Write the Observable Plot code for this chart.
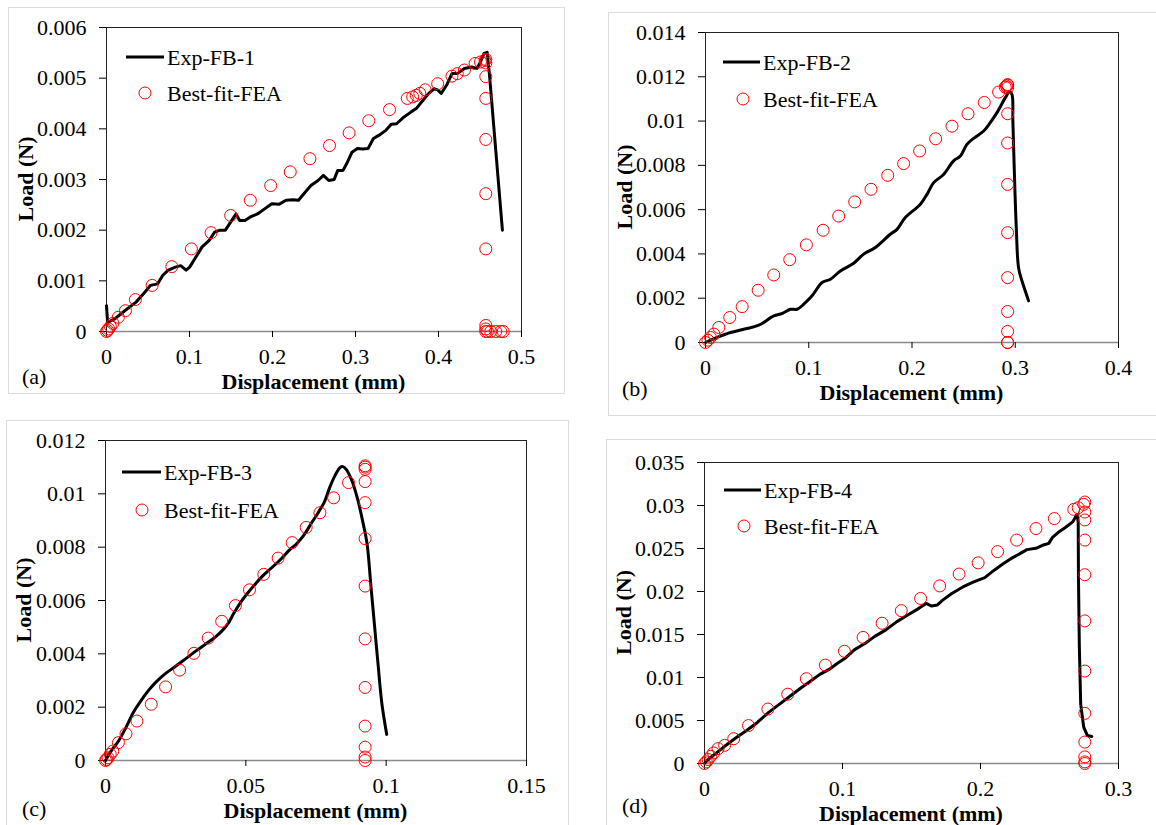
<!DOCTYPE html>
<html><head><meta charset="utf-8">
<script src="https://cdn.jsdelivr.net/npm/d3@7"></script>
<script src="https://cdn.jsdelivr.net/npm/@observablehq/plot@0.6"></script>
<style>
html,body{margin:0;padding:0;background:#fff;}
#root{position:relative;width:1156px;height:825px;overflow:hidden;background:#fff;}
.box{position:absolute;border:1px solid #dcdcdc;box-sizing:border-box;}
.panel{position:absolute;}
</style></head><body><div id="root"></div>
<script>
// ---------- Panel (a) ----------
const xTicksA = [0, 0.1, 0.2, 0.3, 0.4, 0.5];
const yTicksA = [0, 0.001, 0.002, 0.003, 0.004, 0.005, 0.006];
const expAx = [0,0.0013,0.0099,0.0228,0.0357,0.0464,0.0529,0.0615,0.0679,0.0744,0.0830,0.0894,0.0959,0.1002,0.1066,0.1152,0.1238,0.1303,0.1367,0.1432,0.1496,0.1561,0.1604,0.1668,0.1733,0.1819,0.1905,0.1991,0.2077,0.2163,0.2249,0.2313,0.2378,0.2463,0.2549,0.2614,0.2678,0.2743,0.2786,0.2850,0.2893,0.2958,0.3022,0.3087,0.3151,0.3216,0.3280,0.3366,0.3431,0.3495,0.3581,0.3667,0.3732,0.3796,0.3882,0.3947,0.3990,0.4033,0.4097,0.4162,0.4226,0.4312,0.4398,0.4463,0.4506,0.4549,0.4586,0.4613,0.4770];
const expAy = [0.00051,0.00018,0.00025,0.00042,0.00058,0.00078,0.00091,0.00094,0.00111,0.00121,0.00127,0.00130,0.00121,0.00127,0.00144,0.00167,0.00180,0.00196,0.00200,0.00200,0.00216,0.00232,0.00219,0.00219,0.00226,0.00232,0.00242,0.00252,0.00251,0.00259,0.00260,0.00259,0.00272,0.00288,0.00298,0.00308,0.00298,0.00300,0.00318,0.00318,0.00331,0.00354,0.00361,0.00360,0.00361,0.00381,0.00387,0.00397,0.00409,0.00410,0.00423,0.00433,0.00440,0.00453,0.00470,0.00479,0.00477,0.00470,0.00486,0.00509,0.00509,0.00519,0.00522,0.00519,0.00532,0.00549,0.00551,0.00509,0.00200];
const feaAx = [0,0.0013,0.0026,0.0047,0.0077,0.0142,0.0228,0.0348,0.055,0.0787,0.1023,0.126,0.1496,0.1733,0.1978,0.2214,0.2451,0.2687,0.2923,0.316,0.341,0.3624,0.3689,0.3732,0.3775,0.3839,0.399,0.4162,0.4226,0.4312,0.4441,0.4506,0.4561,0.457,0.457,0.457,0.457,0.457,0.457,0.457,0.457,0.457,0.457,0.459,0.463,0.469,0.475,0.478];
const feaAy = [0,0.00002,0.00005,0.0001,0.00016,0.00028,0.00041,0.00063,0.00091,0.00128,0.00163,0.00195,0.00229,0.00259,0.00288,0.00315,0.00341,0.00367,0.00392,0.00416,0.00438,0.0046,0.00463,0.00466,0.0047,0.00477,0.00489,0.00504,0.00509,0.00516,0.00529,0.00532,0.00535,0.00537,0.0053,0.00503,0.0046,0.00379,0.00272,0.00163,0.00012,0.00005,0,0,0,0,0,0];

// ---------- Panel (b) ----------
const xTicksB = [0, 0.1, 0.2, 0.3, 0.4];
const yTicksB = [0, 0.002, 0.004, 0.006, 0.008, 0.01, 0.012, 0.014];
const expBx = [0,0.0113,0.0242,0.0371,0.0516,0.0661,0.0742,0.0823,0.0887,0.0952,0.1032,0.1129,0.1210,0.1306,0.1435,0.1532,0.1645,0.1790,0.1855,0.1935,0.2081,0.2145,0.2210,0.2306,0.2403,0.2468,0.2532,0.2597,0.2694,0.2758,0.2823,0.2903,0.2945,0.2968,0.2977,0.2990,0.3010,0.3032,0.3065,0.3097,0.3129];
const expBy = [0,0.00023,0.00045,0.00060,0.00078,0.00120,0.00131,0.00150,0.00150,0.00173,0.00211,0.00271,0.00286,0.00323,0.00358,0.00399,0.00429,0.00489,0.00511,0.00564,0.00624,0.00669,0.00722,0.00759,0.00820,0.00842,0.00895,0.00922,0.00955,0.00993,0.01038,0.01105,0.01132,0.01120,0.01000,0.00790,0.00519,0.00338,0.00278,0.00233,0.00188];
const feaBx = [0,0.0023,0.0048,0.0081,0.0129,0.0235,0.0355,0.0510,0.0661,0.0816,0.0977,0.1139,0.1290,0.1445,0.1603,0.1765,0.1919,0.2074,0.2229,0.2387,0.2542,0.2700,0.2839,0.2903,0.2915,0.2926,0.2926,0.2926,0.2926,0.2926,0.2926,0.2926,0.2926,0.2926,0.2926,0.2926,0.2926];
const feaBy = [0,0.000105,0.00023,0.00038,0.00068,0.00113,0.00162,0.00236,0.00305,0.00374,0.00441,0.00507,0.00571,0.00635,0.00692,0.00755,0.00808,0.00865,0.00920,0.00977,0.01033,0.01084,0.01131,0.01153,0.01158,0.01162,0.01165,0.01150,0.01033,0.00901,0.00714,0.00496,0.00293,0.00140,0.00050,0,0];

// ---------- Panel (c) ----------
const xTicksC = [0, 0.05, 0.1, 0.15];
const yTicksC = [0, 0.002, 0.004, 0.006, 0.008, 0.01, 0.012];
const expCx = [0,0.00198,0.00463,0.00727,0.00991,0.01255,0.0152,0.0178,0.0211,0.0244,0.0284,0.0324,0.0357,0.0390,0.0416,0.0436,0.0456,0.0482,0.0509,0.0535,0.0562,0.0588,0.0621,0.0654,0.0681,0.0707,0.0733,0.0760,0.0780,0.0800,0.0819,0.0837,0.0846,0.0859,0.0879,0.0899,0.0918,0.0932,0.0945,0.0958,0.0971,0.0985,0.1002];
const expCy = [0,0.00035,0.00073,0.00123,0.00180,0.00223,0.00261,0.00292,0.00324,0.00349,0.00380,0.00412,0.00437,0.00462,0.00487,0.00512,0.00550,0.00594,0.00631,0.00663,0.00694,0.00719,0.00751,0.00788,0.00813,0.00845,0.00889,0.00933,0.00970,0.01027,0.01071,0.01100,0.01102,0.01090,0.01046,0.00977,0.00889,0.00813,0.00663,0.00512,0.00362,0.00211,0.00098];
const feaCx = [0,0.0004,0.0009,0.0017,0.0026,0.0046,0.0073,0.0112,0.0163,0.0214,0.0264,0.0315,0.0366,0.0414,0.0463,0.0513,0.0564,0.0615,0.0665,0.0715,0.0764,0.0813,0.0866,0.0925,0.0925,0.0925,0.0925,0.0925,0.0925,0.0925,0.0925,0.0925,0.0925,0.0925,0.0925,0.0925];
const feaCy = [0,0.00004,0.0001,0.00023,0.00035,0.00067,0.0010,0.00148,0.00211,0.00276,0.00339,0.00402,0.00459,0.00522,0.00581,0.0064,0.00698,0.00759,0.00817,0.00874,0.00929,0.00985,0.01042,0.01105,0.0110,0.01092,0.01046,0.00967,0.00832,0.00654,0.00456,0.00274,0.00129,0.0005,0.00013,0];

// ---------- Panel (d) ----------
const xTicksD = [0, 0.1, 0.2, 0.3];
const yTicksD = [0, 0.005, 0.01, 0.015, 0.02, 0.025, 0.03, 0.035];
const expDx = [0,0.00265,0.0080,0.0146,0.0226,0.0305,0.0385,0.0465,0.0544,0.0624,0.0703,0.0770,0.0836,0.0903,0.0969,0.1022,0.1088,0.1168,0.1234,0.1314,0.1394,0.1473,0.1553,0.1606,0.1646,0.1686,0.1726,0.1792,0.1872,0.1951,0.2031,0.2097,0.2164,0.2217,0.2283,0.2336,0.2402,0.2456,0.2495,0.2522,0.2562,0.2615,0.2668,0.2700,0.2708,0.2710,0.2716,0.2726,0.2748,0.2774,0.2806];
const expDy = [0,0.00046,0.00115,0.00200,0.00296,0.00384,0.00480,0.00595,0.00691,0.00787,0.00883,0.00959,0.01036,0.01094,0.01171,0.01228,0.01324,0.01401,0.01478,0.01554,0.01650,0.01727,0.01804,0.01861,0.01831,0.01842,0.01900,0.01976,0.02053,0.02111,0.02161,0.02245,0.02322,0.02379,0.02437,0.02487,0.02502,0.02541,0.02560,0.02629,0.02686,0.02744,0.02809,0.02898,0.02802,0.02149,0.01382,0.00691,0.00422,0.00326,0.00315];
const feaDx = [0,0.0013,0.00265,0.0045,0.0066,0.0098,0.0146,0.0212,0.0319,0.0459,0.0603,0.0738,0.0876,0.1014,0.1149,0.1287,0.1426,0.1566,0.1704,0.1845,0.1983,0.2124,0.2262,0.2402,0.2535,0.2676,0.2708,0.2748,0.2756,0.2756,0.2756,0.2756,0.2756,0.2756,0.2756,0.2756,0.2756,0.2756,0.2756,0.2756];
const feaDy = [0,0.00019,0.00046,0.00084,0.00123,0.00173,0.00211,0.00288,0.00441,0.00633,0.00806,0.00986,0.01144,0.01305,0.01466,0.01631,0.01777,0.01919,0.02065,0.02203,0.02333,0.02464,0.02598,0.02732,0.02848,0.02955,0.02974,0.03013,0.0304,0.02924,0.02832,0.02598,0.02195,0.01658,0.01075,0.00583,0.00249,0.00077,0.00019,0];

const expNames = ["Exp-FB-1", "Exp-FB-2", "Exp-FB-3", "Exp-FB-4"];
const feaName = "Best-fit-FEA";
const xTitle = "Displacement (mm)";
const yTitle = "Load (N)";
const tags = ["(a)", "(b)", "(c)", "(d)"];

// ---------- layout ----------
const FONT = '"Liberation Serif", "Times New Roman", Times, serif';
const panels = [
  {left:0, top:0, w:580, h:410, mt:27, mr:59, mb:79, ml:106, xd:[0,0.5], yd:[0,0.006], xt:xTicksA, yt:yTicksA, ex:expAx, ey:expAy, fx:feaAx, fy:feaAy, curve:"linear",
   leg:{x1:126, x2:164, y1:57, tx:167, cx:145, cy:93}, xtY:389, ytX:25, tagX:22, tagY:384,
   box:{l:8, t:7, w:557, h:387}},
  {left:580, top:0, w:576, h:410, mt:32, mr:38, mb:68, ml:125, xd:[0,0.4], yd:[0,0.014], xt:xTicksB, yt:yTicksB, ex:expBx, ey:expBy, fx:feaBx, fy:feaBy, curve:"catmull-rom",
   leg:{x1:143, x2:180, y1:62, tx:183, cx:163, cy:99}, xtY:400, ytX:44, tagX:42, tagY:396,
   box:{l:608, t:12, w:600, h:404}},
  {left:0, top:410, w:580, h:415, mt:30, mr:54, mb:65, ml:105, xd:[0,0.15], yd:[0,0.012], xt:xTicksC, yt:yTicksC, ex:expCx, ey:expCy, fx:feaCx, fy:feaCy, curve:"catmull-rom",
   leg:{x1:122, x2:161, y1:62, tx:164, cx:142, cy:100}, xtY:408, ytX:23, tagX:22, tagY:406,
   box:{l:6, t:420, w:563, h:450}},
  {left:580, top:410, w:576, h:415, mt:52, mr:38, mb:62, ml:124, xd:[0,0.3], yd:[0,0.035], xt:xTicksD, yt:yTicksD, ex:expDx, ey:expDy, fx:feaDx, fy:feaDy, curve:"linear",
   leg:{x1:144, x2:181, y1:80, tx:184, cx:164, cy:116}, xtY:411, ytX:43, tagX:42, tagY:403,
   box:{l:606, t:439, w:600, h:450}}
];

const root = document.getElementById("root");
const fmt = d => d === 0 ? "0" : String(d);

panels.forEach((c) => {
  const box = document.createElement("div");
  box.className = "box";
  Object.assign(box.style, {left: c.box.l + "px", top: c.box.t + "px", width: c.box.w + "px", height: c.box.h + "px"});
  root.appendChild(box);
});

panels.forEach((c, k) => {
  const exp = c.ex.map((x, i) => ({x, y: c.ey[i]}));
  const fea = c.fx.map((x, i) => ({x, y: c.fy[i]}));
  const svg = Plot.plot({
    width: c.w, height: c.h,
    marginTop: c.mt, marginRight: c.mr, marginBottom: c.mb, marginLeft: c.ml,
    style: {fontFamily: FONT, fontSize: "22px", background: "transparent", color: "#000", overflow: "visible"},
    x: {domain: c.xd},
    y: {domain: c.yd},
    marks: [
      Plot.frame({stroke: "#222", strokeWidth: 1}),
      Plot.ruleY([0], {stroke: "#8a8a8a", strokeWidth: 1.6}),
      Plot.axisX({ticks: c.xt, tickFormat: fmt, tickSize: 6, tickPadding: 11, label: null, fontSize: 22, fill: "#000"}),
      Plot.axisY({ticks: c.yt, tickFormat: fmt, tickSize: 7, tickPadding: 13, label: null, fontSize: 22, fill: "#000"}),
      Plot.line(exp, {x: "x", y: "y", stroke: "#000", strokeWidth: 3, curve: c.curve, strokeLinejoin: "round"}),
      Plot.dot(fea, {x: "x", y: "y", r: 6, stroke: "#ff0000", strokeWidth: 1, fill: "none"})
    ]
  });
  const wrap = document.createElement("div");
  wrap.className = "panel";
  wrap.style.left = c.left + "px";
  wrap.style.top = c.top + "px";
  wrap.appendChild(svg);
  root.appendChild(wrap);

  const g = d3.select(svg).append("g")
    .attr("font-family", FONT).attr("font-size", 22).attr("fill", "#000")
    .attr("text-anchor", "start");
  const L = c.leg;
  g.append("line").attr("x1", L.x1).attr("x2", L.x2).attr("y1", L.y1).attr("y2", L.y1)
    .attr("stroke", "#000").attr("stroke-width", 3);
  g.append("text").attr("x", L.tx).attr("y", L.y1).attr("dy", "0.35em")
    .attr("text-anchor", "start").text(expNames[k]);
  g.append("circle").attr("cx", L.cx).attr("cy", L.cy).attr("r", 6)
    .attr("fill", "none").attr("stroke", "#ff0000").attr("stroke-width", 1);
  g.append("text").attr("x", L.tx).attr("y", L.cy).attr("dy", "0.35em")
    .attr("text-anchor", "start").text(feaName);

  const fx0 = c.ml, fx1 = c.w - c.mr, fy0 = c.mt, fy1 = c.h - c.mb;
  g.append("text").attr("x", (fx0 + fx1) / 2).attr("y", c.xtY)
    .attr("text-anchor", "middle").attr("font-weight", "bold").text(xTitle);
  g.append("text").attr("transform", `translate(${c.ytX},${(fy0 + fy1) / 2}) rotate(-90)`)
    .attr("text-anchor", "middle").attr("dy", "0.35em").attr("font-weight", "bold").text(yTitle);
  g.append("text").attr("x", c.tagX).attr("y", c.tagY)
    .attr("text-anchor", "start").text(tags[k]);
});
</script>
</body></html>
